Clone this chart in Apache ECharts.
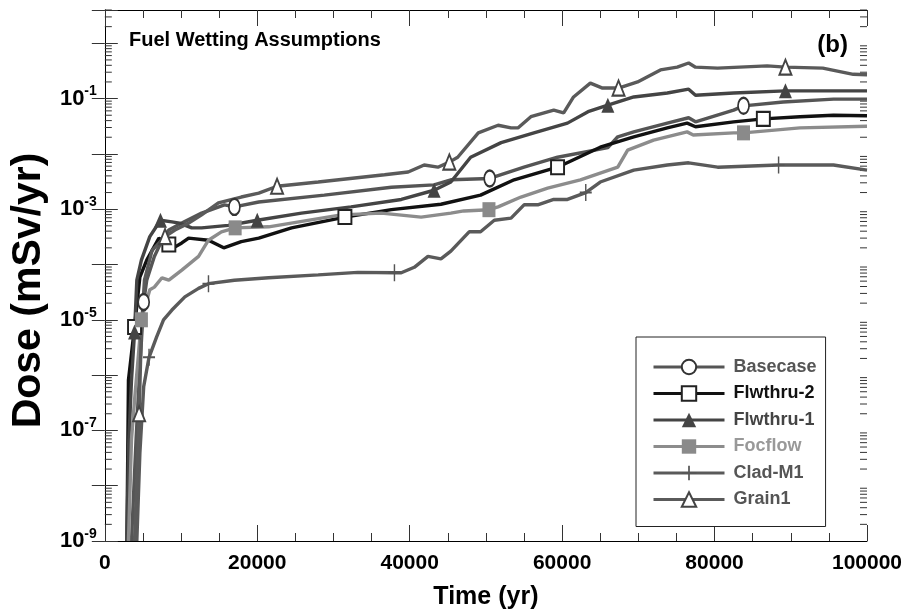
<!DOCTYPE html>
<html>
<head>
<meta charset="utf-8">
<script src="https://cdn.jsdelivr.net/npm/echarts@6/dist/echarts.min.js"></script>
<style>html,body{margin:0;padding:0;background:#fff}#chart{width:908px;height:616px}</style>
</head>
<body>
<div id="chart"></div>
<script>
// ---- data (time in yr, dose in mSv/yr) ----
const seriesNames = ['Basecase', 'Flwthru-2', 'Flwthru-1', 'Focflow', 'Clad-M1', 'Grain1'];

const basecase = [[3500,1e-9],[4100,6.8e-8],[4500,8e-7],[5100,2.1e-5],[5500,5.2e-5],[6500,1.4e-4],[7500,2.75e-4],[8400,4.2e-4],[10100,5.6e-4],[12700,8.5e-4],[15700,1.2e-3],[17000,1.1e-3],[20200,1.35e-3],[28800,1.8e-3],[37600,2.5e-3],[43200,2.75e-3],[45400,3.4e-3],[50500,3.6e-3],[55000,5.75e-3],[59400,8.7e-3],[66000,0.013],[67300,0.0204],[69400,0.025],[73800,0.036],[76600,0.045],[77500,0.038],[82500,0.062],[83800,0.074],[89000,0.087],[95600,0.098],[100000,0.098]];
const basecaseMarks = [5100,17000,50500,83800];

const flwthru2 = [[2900,1e-9],[3100,8.1e-7],[3900,7.4e-6],[4600,5.9e-5],[5500,1.2e-4],[7100,3.0e-4],[8400,2.3e-4],[9000,2.0e-4],[10100,2.45e-4],[11000,3.0e-4],[13600,2.75e-4],[15600,2.0e-4],[17900,2.6e-4],[20200,3.0e-4],[24500,4.6e-4],[31500,7.2e-4],[37600,9.8e-4],[44100,1.23e-3],[49300,1.8e-3],[53700,3.4e-3],[59400,5.75e-3],[65000,0.0132],[69400,0.0204],[73800,0.0295],[76400,0.036],[77500,0.031],[82500,0.038],[86400,0.043],[91200,0.047],[95600,0.05],[100000,0.049]];
const flwthru2Marks = [3900,8400,31500,59400,86400];

const flwthru1 = [[2900,1e-9],[3100,4.5e-8],[3500,8.1e-7],[3900,6.0e-6],[4200,5.2e-5],[4800,1.2e-4],[5900,3.2e-4],[7300,6.3e-4],[8800,5.9e-4],[9800,5.6e-4],[11400,4.6e-4],[12700,4.6e-4],[16200,5.1e-4],[20000,6.3e-4],[25800,8.5e-4],[32300,1.1e-3],[38900,1.5e-3],[43200,2.2e-3],[45400,3.1e-3],[48000,8.7e-3],[52000,0.016],[56300,0.024],[60700,0.036],[63400,0.058],[66000,0.076],[69400,0.107],[73800,0.126],[76600,0.148],[77500,0.115],[82500,0.126],[89300,0.138],[100000,0.138]];
const flwthru1Marks = [3900,7300,20000,43200,66000,89300];

const focflow = [[3100,1e-9],[3500,6.8e-8],[3900,3.5e-7],[4800,1e-5],[5200,1.6e-5],[5900,3.5e-5],[6500,3.9e-5],[7500,5.75e-5],[8400,5.2e-5],[10100,7.9e-5],[12300,1.4e-4],[13600,2.75e-4],[15300,3.9e-4],[17100,4.6e-4],[21500,4.8e-4],[31000,7.9e-4],[36300,8.5e-4],[41500,7.2e-4],[45400,8.5e-4],[47100,9.3e-4],[50400,9.8e-4],[51600,1.1e-3],[54600,1.66e-3],[58100,2.4e-3],[62400,3.4e-3],[67300,5.75e-3],[68600,0.0117],[72000,0.0178],[76400,0.025],[77200,0.022],[82500,0.024],[83800,0.024],[91200,0.0295],[100000,0.0316]];
const focflowMarks = [4800,17100,50400,83800];

const cladM1 = [[4200,1e-9],[4600,3.9e-8],[5100,6.2e-7],[5800,2.1e-6],[6800,4.9e-6],[7700,1e-5],[8800,1.5e-5],[10500,2.6e-5],[12300,3.7e-5],[13600,4.5e-5],[17000,5.2e-5],[21500,5.75e-5],[28000,6.5e-5],[33200,7.2e-5],[38000,7.1e-5],[38900,7.1e-5],[40600,8.9e-5],[42400,1.4e-4],[44100,1.26e-4],[45400,1.74e-4],[47800,3.9e-4],[49300,3.9e-4],[51100,6.3e-4],[53300,6.9e-4],[55000,1.2e-3],[56800,1.2e-3],[58900,1.5e-3],[60700,1.5e-3],[63100,2.0e-3],[65000,3.1e-3],[69400,5.1e-3],[73800,6.3e-3],[76600,6.9e-3],[80400,5.75e-3],[88400,6.3e-3],[95600,6.3e-3],[100000,5.1e-3]];
const cladM1Marks = [5800,13600,38000,63100,88400];

const grain1 = [[3900,1e-9],[4500,2.0e-7],[4800,6.6e-6],[5200,5.2e-5],[6200,1.8e-4],[7900,3.2e-4],[9200,4.2e-4],[11000,5.6e-4],[12700,7.9e-4],[14900,1.3e-3],[17900,1.66e-3],[20200,1.95e-3],[22600,2.6e-3],[28000,3.1e-3],[36700,4.2e-3],[39800,4.7e-3],[41900,6.3e-3],[43700,5.75e-3],[45200,7.1e-3],[46300,8.7e-3],[49000,0.024],[51600,0.033],[53300,0.0295],[54200,0.0295],[55900,0.047],[58900,0.062],[60200,0.055],[61500,0.107],[63700,0.19],[65300,0.155],[67400,0.155],[69900,0.2],[72900,0.33],[75100,0.37],[76600,0.44],[77500,0.37],[80400,0.355],[86900,0.39],[89300,0.37],[94200,0.355],[98200,0.275],[100000,0.27]];
const grain1Marks = [4500,7900,22600,45200,67400,89300];

const xTickValues = [0, 20000, 40000, 60000, 80000, 100000];
const yLabelExponents = [-9, -7, -5, -3, -1];
const minorMantissas = [2, 3, 4, 5, 6, 7, 8, 9];
const decadeExponents = [-9, -8, -7, -6, -5, -4, -3, -2, -1, 0];

// ---- styling ----
const SANS = "'Liberation Sans',Arial,Helvetica,sans-serif";
const X_MIN = 0, X_MAX = 100000, Y_MIN = 1e-9, Y_MAX = 4;

const plusPath = 'path://M4.4,0H5.6V4.4H10V5.6H5.6V10H4.4V5.6H0V4.4H4.4Z';

const styles = {
  'Basecase':  {line:'#555555', symbol:'emptyCircle',   size:[11,16], item:'#333333', text:'#555555'},
  'Flwthru-2': {line:'#111111', symbol:'emptyRect',     size:[13,14], item:'#222222', text:'#111111'},
  'Flwthru-1': {line:'#444444', symbol:'triangle',      size:[13,15], item:'#444444', text:'#444444'},
  'Focflow':   {line:'#8c8c8c', symbol:'rect',          size:[13,15], item:'#8a8a8a', text:'#999999'},
  'Clad-M1':   {line:'#5a5a5a', symbol:plusPath,        size:[12,17], item:'#555555', text:'#555555'},
  'Grain1':    {line:'#5a5a5a', symbol:'emptyTriangle', size:[12,15], item:'#444444', text:'#555555'}
};
const seriesData = {
  'Basecase': [basecase, basecaseMarks],
  'Flwthru-2': [flwthru2, flwthru2Marks],
  'Flwthru-1': [flwthru1, flwthru1Marks],
  'Focflow': [focflow, focflowMarks],
  'Clad-M1': [cladM1, cladM1Marks],
  'Grain1': [grain1, grain1Marks]
};

const minorTickValues = [];
decadeExponents.forEach(e => minorMantissas.forEach(m => {
  const v = m * Math.pow(10, e);
  if (v <= Y_MAX) minorTickValues.push(v);
}));

const lineSeries = seriesNames.map(name => {
  const st = styles[name];
  const [pts, marks] = seriesData[name];
  return {
    name: name, type: 'line', xAxisIndex: 0, yAxisIndex: 0,
    symbol: st.symbol, symbolSize: st.size, showSymbol: true,
    lineStyle: {color: st.line, width: 3.4},
    itemStyle: {color: st.item, borderWidth: 1},
    data: pts.map(p => marks.indexOf(p[0]) >= 0 ? {value: p} : {value: p, symbol: 'none'}),
    animation: false, silent: true, z: 3
  };
});

function yLabel(v) {
  const e = Math.round(Math.log10(v));
  if (Math.abs(Math.log10(v) - e) > 1e-6) return '';
  if (yLabelExponents.indexOf(e) < 0) return '';
  return '{b|10}{s|' + e + '}';
}

const chart = echarts.init(document.getElementById('chart'), null, {renderer: 'canvas'});
chart.setOption({
  backgroundColor: '#ffffff',
  animation: false,
  title: [
    {text: 'Fuel Wetting Assumptions', left: 129, top: 30, padding: 0,
     textStyle: {fontFamily: SANS, fontWeight: 'bold', fontSize: 20, color: '#000'}},
    {text: '(b)', right: 60, top: 33, padding: 0,
     textStyle: {fontFamily: SANS, fontWeight: 'bold', fontSize: 24, color: '#000'}}
  ],
  grid: {left: 103, right: 41, top: 10, bottom: 75, containLabel: false},
  legend: {
    orient: 'vertical', left: 636, top: 337,
    padding: [21, 9, 18, 16], itemWidth: 71, itemHeight: 18, itemGap: 8.5,
    borderColor: '#222', borderWidth: 1, backgroundColor: '#fff',
    selectedMode: false,
    lineStyle: {width: 3},
    textStyle: {fontFamily: SANS, fontWeight: 'bold', fontSize: 18, padding: [0, 0, 0, 4]},
    data: seriesNames.map(n => ({name: n, textStyle: {color: styles[n].text}}))
  },
  xAxis: [
    {type: 'value', position: 'bottom', min: X_MIN, max: X_MAX, interval: 20000,
     name: 'Time (yr)', nameLocation: 'middle', nameGap: 44,
     nameTextStyle: {fontFamily: SANS, fontWeight: 'bold', fontSize: 25, color: '#000'},
     axisLine: {show: true, lineStyle: {color: '#000', width: 1}},
     axisTick: {show: true, inside: true, length: 16, lineStyle: {color: '#333'}},
     minorTick: {show: true, splitNumber: 4, length: 8, lineStyle: {color: '#333'}},
     splitLine: {show: false}, minorSplitLine: {show: false},
     axisLabel: {show: true, margin: 12, fontFamily: SANS, fontWeight: 'bold', fontSize: 21, color: '#000',
       formatter: v => (xTickValues.indexOf(v) >= 0 ? String(v) : '')}},
    {type: 'value', position: 'top', min: X_MIN, max: X_MAX, interval: 20000,
     axisLine: {show: true, lineStyle: {color: '#000', width: 1}},
     axisTick: {show: true, inside: true, length: 16, lineStyle: {color: '#333'}},
     minorTick: {show: true, splitNumber: 4, length: 8, lineStyle: {color: '#333'}},
     splitLine: {show: false}, axisLabel: {show: false}}
  ],
  yAxis: [
    {type: 'log', logBase: 10, position: 'left', min: Y_MIN, max: Y_MAX, interval: 1,
     name: 'Dose (mSv/yr)', nameLocation: 'middle', nameGap: 51,
     nameTextStyle: {fontFamily: SANS, fontWeight: 'bold', fontSize: 41, color: '#000', padding: [0, 30, 0, 0]},
     axisLine: {show: true, lineStyle: {color: '#666', width: 1}},
     axisTick: {show: true, inside: true, length: 13, lineStyle: {color: '#333'}},
     minorTick: {show: false}, splitLine: {show: false},
     axisLabel: {show: true, margin: 8, color: '#000', formatter: yLabel,
       rich: {
         b: {fontFamily: SANS, fontWeight: 'bold', fontSize: 22, lineHeight: 28, color: '#000'},
         s: {fontFamily: SANS, fontWeight: 'bold', fontSize: 14, lineHeight: 28, verticalAlign: 'top', color: '#000'}
       }}},
    {type: 'log', logBase: 10, position: 'right', min: Y_MIN, max: Y_MAX, interval: 1,
     axisLine: {show: true, lineStyle: {color: '#000', width: 1}},
     axisTick: {show: true, inside: true, length: 13, lineStyle: {color: '#333'}},
     minorTick: {show: false}, splitLine: {show: false}, axisLabel: {show: false}}
  ],
  series: lineSeries.concat([{
    name: 'minor-ticks', type: 'custom', xAxisIndex: 0, yAxisIndex: 0,
    silent: true, clip: false, z: 1, animation: false,
    data: minorTickValues.map(v => [X_MIN, v]),
    encode: {x: 0, y: 1},
    renderItem: function (params, api) {
      const v = api.value(1);
      const l = api.coord([X_MIN, v]);
      const r = api.coord([X_MAX, v]);
      return {type: 'group', children: [
        {type: 'line', shape: {x1: l[0], y1: l[1], x2: l[0] + 7, y2: l[1]}, style: {stroke: '#333', lineWidth: 1}},
        {type: 'line', shape: {x1: r[0] - 7, y1: r[1], x2: r[0], y2: r[1]}, style: {stroke: '#333', lineWidth: 1}}
      ]};
    }
  }])
});
</script>
</body>
</html>
